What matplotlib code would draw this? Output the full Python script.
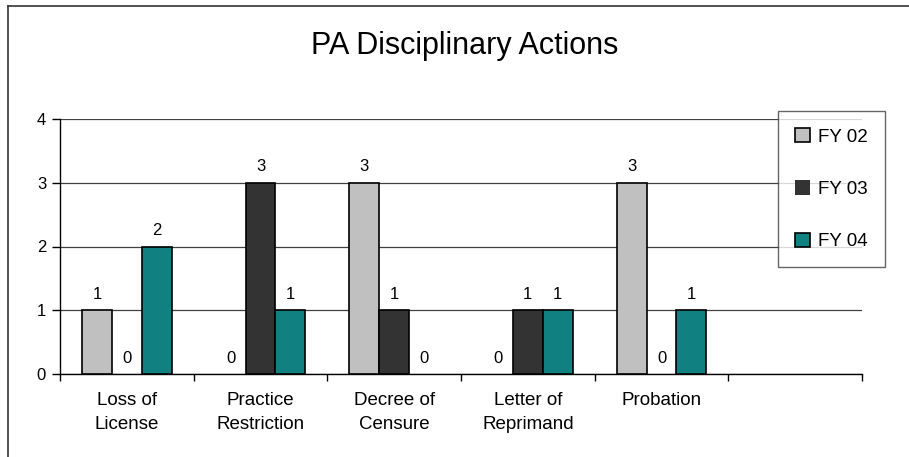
import numpy as np
import matplotlib
matplotlib.use("Agg")
import matplotlib.pyplot as plt
from matplotlib.lines import Line2D

categories = ["Loss of\nLicense", "Practice\nRestriction", "Decree of\nCensure",
              "Letter of\nReprimand", "Probation", ""]
fy02 = [1, 0, 3, 0, 3]
fy03 = [0, 3, 1, 1, 0]
fy04 = [2, 1, 0, 1, 1]
series = ["FY 02", "FY 03", "FY 04"]
colors = ["#c0c0c0", "#333333", "#108080"]

plt.rcParams['font.family'] = ['Liberation Sans', 'DejaVu Sans']

fig = plt.figure(figsize=(9.09, 4.57), dpi=100)
ax = fig.add_axes([60/909, 1-374/457, (862-60)/909, (374-119)/457])

x = np.arange(len(fy02))
w = 0.224
for i, (vals, name, c) in enumerate(zip([fy02, fy03, fy04], series, colors)):
    bars = ax.bar(x + (i-1)*w, vals, w, color=c, edgecolor='black', linewidth=1.2,
                  label=name, zorder=3)
    for b, v in zip(bars, vals):
        if v == 0:
            b.set_edgecolor('none')
    ax.bar_label(bars, padding=6, fontsize=12)

ax.set_xlim(-0.5, len(categories)-0.5)
ax.set_ylim(0, 4)
ax.set_yticks([0, 1, 2, 3, 4])
ax.yaxis.grid(True, color='#404040', linewidth=0.9)
ax.set_axisbelow(True)

ax.set_xticks(np.arange(len(categories)))
ax.set_xticklabels(categories, fontsize=13.5, linespacing=1.5)
ax.set_xticks(np.arange(len(categories)+1) - 0.5, minor=True)
ax.tick_params(axis='x', which='major', length=0, pad=13)
ax.tick_params(axis='x', which='minor', length=5, width=1, direction='out')
ax.tick_params(axis='y', length=6, width=1, pad=4, labelsize=12)

for s in ['top', 'right']:
    ax.spines[s].set_visible(False)
ax.spines['left'].set_linewidth(1)
ax.spines['bottom'].set_linewidth(1)

fig.text(465/909, 1-46/457, "PA Disciplinary Actions", ha='center', va='center', fontsize=22)

leg = fig.legend(loc='upper left', bbox_to_anchor=(778/909, 1-111/457), fontsize=13.5,
                 frameon=True, fancybox=False, edgecolor='#404040',
                 handlelength=0.8, handleheight=0.8, handletextpad=0.45,
                 labelspacing=1.85, borderpad=0.9, borderaxespad=0)
leg.get_frame().set_linewidth(1)

# outer chart border (cut off on the right and bottom)
fig.add_artist(Line2D([8/909, 8/909], [0, 1-6/457], color='#333333', linewidth=1.2))
fig.add_artist(Line2D([8/909, 1], [1-6/457, 1-6/457], color='#333333', linewidth=1.2))

fig.savefig("out.png", dpi=100)
